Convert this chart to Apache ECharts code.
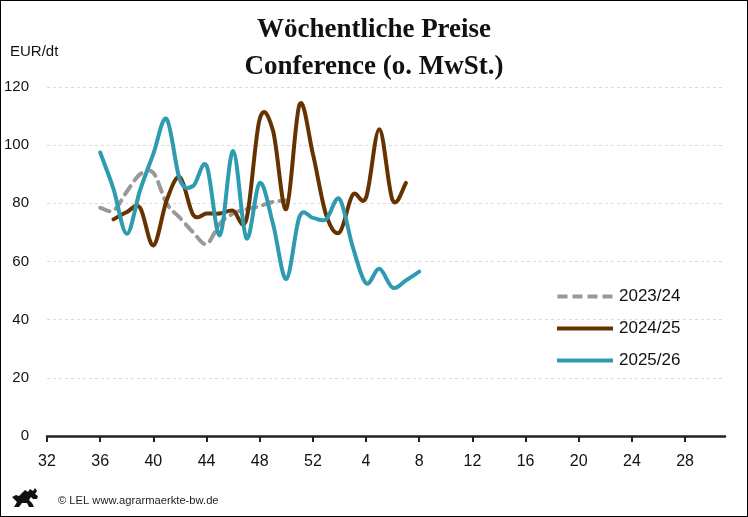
<!DOCTYPE html>
<html>
<head>
<meta charset="utf-8">
<script src="https://cdn.jsdelivr.net/npm/echarts@6/dist/echarts.min.js"></script>
<style>
html,body{margin:0;padding:0;background:#fff;}
#wrap{width:748px;height:517px;box-sizing:border-box;border:1px solid #000;position:relative;}
#chart{position:absolute;left:-1px;top:-1px;width:748px;height:517px;}
</style>
</head>
<body>
<div id="wrap"><div id="chart"></div></div>
<script>
// Category axis: calendar weeks from 32 through 52, then 1 through 31
const weeks = ['32','33','34','35','36','37','38','39','40','41','42','43','44','45','46','47','48','49','50','51','52',
  '1','2','3','4','5','6','7','8','9','10','11','12','13','14','15','16','17','18','19','20',
  '21','22','23','24','25','26','27','28','29','30','31'];

// 2023/24
const weeks2324 = ['36','37','38','39','40','41','42','43','44','45','46','47','48','49','50'];
const values2324 = [78.5, 77.5, 84, 90, 90.5, 80, 75, 70, 66, 73, 76.5, 78, 79, 80.5, 81];

// 2024/25
const weeks2425 = ['37','38','39','40','41','42','43','44','45','46','47','48','49','50','51','52','1','2','3','4','5','6','7'];
const values2425 = [74.5, 77, 78.5, 65.5, 81, 89, 76, 76.5, 76.5, 77.5, 74.5, 109, 105, 78, 114, 97, 76, 70, 83, 82, 105.5, 81, 87];

// 2025/26
const weeks2526 = ['36','37','38','39','40','41','42','43','44','45','46','47','48','49','50','51','52','1','2','3','4','5','6','7','8'];
const values2526 = [97.5, 85, 69.5, 84.5, 97, 109, 88, 86, 93, 69, 98, 68, 87, 73, 54, 75.5, 75, 74.5, 81.5, 65, 52.5, 57.5, 51, 53.5, 56.5];

const seriesNames = ['2023/24', '2024/25', '2025/26'];
const seriesColors = ['#999999', '#663300', '#2e9bb0'];
const yTicks = [0, 20, 40, 60, 80, 100, 120];

function toPoints(ws, vs) {
  return ws.map((w, i) => [weeks.indexOf(w), vs[i]]);
}
const seriesPoints = [
  toPoints(weeks2324, values2324),
  toPoints(weeks2425, values2425),
  toPoints(weeks2526, values2526)
];

// Smooth curve (Catmull-Rom style, like the spreadsheet original) through the data,
// mapped to pixels by the chart's own axes via api.coord.
function makeRender(points, color, dash) {
  return function (params, api) {
    if (params.dataIndex !== 0) return {type: 'group', children: []};
    const p = points.map(d => api.coord([d[0], d[1]]));
    let path = 'M' + p[0][0] + ',' + p[0][1];
    for (let i = 0; i < p.length - 1; i++) {
      const p0 = p[i - 1] || p[i];
      const p1 = p[i];
      const p2 = p[i + 1];
      const p3 = p[i + 2] || p[i + 1];
      const c1x = p1[0] + (p2[0] - p0[0]) / 6;
      const c1y = p1[1] + (p2[1] - p0[1]) / 6;
      const c2x = p2[0] - (p3[0] - p1[0]) / 6;
      const c2y = p2[1] - (p3[1] - p1[1]) / 6;
      path += ' C' + c1x + ',' + c1y + ' ' + c2x + ',' + c2y + ' ' + p2[0] + ',' + p2[1];
    }
    return {
      type: 'path',
      shape: {pathData: path},
      style: {fill: null, stroke: color, lineWidth: 4, lineDash: dash, lineCap: 'round', lineJoin: 'round'}
    };
  };
}

const chart = echarts.init(document.getElementById('chart'), null, {renderer: 'canvas'});
const sans = 'Liberation Sans, Arial, sans-serif';

const dashIcon = 'path://M0,0h10v4h-10z M15,0h10v4h-10z M30,0h10v4h-10z M45,0h10v4h-10z';
const solidIcon = 'path://M0,0h56v4h-56z';

chart.setOption({
  animation: false,
  backgroundColor: 'transparent',
  title: {
    text: 'Wöchentliche Preise\nConference (o. MwSt.)',
    left: 'center',
    top: 7,
    textStyle: {
      fontFamily: 'Liberation Serif, serif',
      fontWeight: 'bold',
      fontSize: 27,
      lineHeight: 37,
      color: '#111'
    }
  },
  grid: {left: 47, right: 23, top: 87, bottom: 81, containLabel: false},
  legend: {
    orient: 'vertical',
    left: 552,
    top: 283,
    itemWidth: 56,
    itemHeight: 4,
    itemGap: 15,
    textStyle: {fontFamily: sans, fontSize: 17, color: '#111', padding: [0, 0, 0, 1]},
    data: [
      {name: seriesNames[0], icon: dashIcon},
      {name: seriesNames[1], icon: solidIcon},
      {name: seriesNames[2], icon: solidIcon}
    ]
  },
  xAxis: {
    type: 'category',
    data: weeks,
    boundaryGap: false,
    axisLine: {lineStyle: {color: '#222', width: 2.5}},
    axisTick: {show: true, interval: 3, length: 6, lineStyle: {color: '#222', width: 2}},
    axisLabel: {interval: 3, fontFamily: sans, fontSize: 16, color: '#111', margin: 18},
    splitLine: {show: false}
  },
  yAxis: {
    type: 'value',
    min: yTicks[0],
    max: yTicks[yTicks.length - 1],
    interval: 20,
    axisLine: {show: false},
    axisTick: {show: false},
    axisLabel: {fontFamily: sans, fontSize: 15, color: '#111', margin: 18},
    splitLine: {lineStyle: {color: '#dadada', type: [3, 3], width: 1}}
  },
  graphic: [
    {type: 'text', left: 10, top: 44, style: {text: 'EUR/dt', fontFamily: sans, fontSize: 15, fill: '#111'}},
    {type: 'text', left: 58, top: 495, style: {text: '© LEL www.agrarmaerkte-bw.de', fontFamily: sans, fontSize: 11.2, fill: '#222'}},
    {type: 'polygon', left: 12, top: 488, shape: {
      points: [[0,10],[4,8],[7,9],[10,6],[13,3],[16,5],[18,2],[21,4],[23,1],[25,4],[23,7],[26,9],[25,12],[21,12],[19,10],[17,13],[20,16],[22,20],[17,20],[15,16],[10,16],[7,20],[2,20],[5,15],[3,13]]
    }, style: {fill: '#111'}}
  ],
  series: seriesNames.map((name, s) => ({
    name: name,
    type: 'custom',
    data: seriesPoints[s],
    encode: {x: 0, y: 1},
    itemStyle: {color: seriesColors[s]},
    renderItem: makeRender(seriesPoints[s], seriesColors[s], s === 0 ? [10, 7] : null),
    z: 2 + s
  }))
});
</script>
</body>
</html>
